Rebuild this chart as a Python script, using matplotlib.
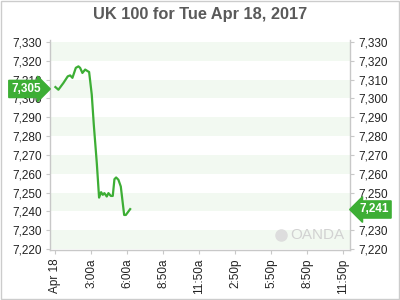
import matplotlib
matplotlib.use('Agg')
import matplotlib.pyplot as plt
from matplotlib.patches import Rectangle

plt.rcParams['font.family'] = ['Liberation Sans', 'DejaVu Sans']

# 数据：小时数与价格
hours = [0, 0.25, 0.67, 1.03, 1.23, 1.42, 1.7, 1.92, 2.06, 2.25, 2.48, 2.7, 2.81,
         3.03, 3.2, 3.45, 3.64, 3.81, 3.95, 4.08, 4.28, 4.42, 4.62, 4.78, 4.92,
         5.06, 5.25, 5.45, 5.73, 5.87, 6.08, 6.23]
prices = [7306, 7304.6, 7308.2, 7311.7, 7312.2, 7310.9, 7316.2, 7317, 7316.2,
          7313.5, 7315.3, 7314.4, 7314, 7302, 7286, 7265.6, 7247.3, 7250.2,
          7248.8, 7249.7, 7247.9, 7249.7, 7248.2, 7248.2, 7257.1, 7258, 7256.8,
          7253.2, 7238.1, 7238.1, 7239.9, 7241.2]

tick_pos = [0, 3, 6, 9, 12, 15, 18, 21, 24]
tick_labels = ['Apr 18', '3:00a', '6:00a', '8:50a', '11:50a', '2:50p', '5:50p', '8:50p', '11:50p']
y_ticks = [7220, 7230, 7240, 7250, 7260, 7270, 7280, 7290, 7300, 7310, 7320, 7330]
open_price = 7305
last_price = 7241

green = '#3dae35'
grey = '#c8c8c8'

fig = plt.figure(figsize=(4, 3), dpi=100)
ax = fig.add_axes([0.125, 0.1667, 0.75, 0.7])

# 背景条纹
for y0 in range(7220, 7330, 20):
    ax.axhspan(y0, y0 + 10, color='#f2f9f1', lw=0, zorder=0)

ax.plot(hours, prices, color=green, lw=1.6, zorder=3)

ax.set_xlim(-0.45, 24.55)
ax.set_ylim(7219.5, 7331)
ax.set_xticks(tick_pos)
ax.set_xticklabels(tick_labels, rotation=90)
ax.set_yticks(y_ticks)
ax.set_yticklabels([f'{v:,}' for v in y_ticks])
ax.tick_params(axis='both', colors=grey, labelcolor='#222222', labelsize=8.5,
               length=3, width=0.8)
ax.tick_params(axis='y', right=True, labelright=True, pad=3)
ax.tick_params(axis='x', pad=3)

for s in ['left', 'bottom', 'right']:
    ax.spines[s].set_color(grey)
    ax.spines[s].set_linewidth(1)
ax.spines['top'].set_visible(False)

# 标题
fig.text(0.5, 0.953, 'UK 100 for Tue Apr 18, 2017', ha='center', va='center',
         fontsize=11.8, fontweight='bold', color='#5a5a5a')

# 价格标签
ax.text(-0.03, open_price, f'{open_price:,}', transform=ax.get_yaxis_transform(),
        ha='right', va='center', fontsize=8.5, fontweight='bold', color='white',
        bbox=dict(boxstyle='rarrow,pad=0.22', fc=green, ec=green), zorder=5)
ax.text(1.03, last_price, f'{last_price:,}', transform=ax.get_yaxis_transform(),
        ha='left', va='center', fontsize=8.5, fontweight='bold', color='white',
        bbox=dict(boxstyle='larrow,pad=0.22', fc=green, ec=green), zorder=5)

# 水印
ax.text(0.98, 0.07, 'OANDA', transform=ax.transAxes, ha='right', va='center',
        fontsize=11, color='#d2d2d2', zorder=1)
ax.plot([0.77], [0.07], transform=ax.transAxes, marker='o', ms=8,
        color='#dddddd', zorder=1)

# 外框
fig.patches.append(Rectangle((0.002, 0.003), 0.996, 0.994, transform=fig.transFigure,
                             fill=False, ec='#cccccc', lw=1))

fig.savefig('out.png', dpi=100)
